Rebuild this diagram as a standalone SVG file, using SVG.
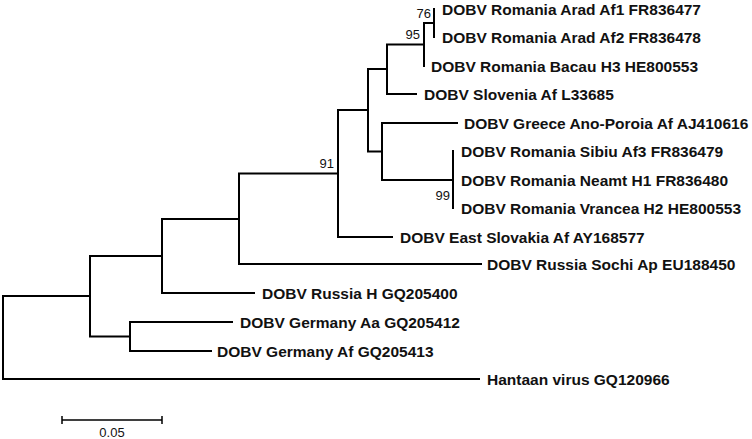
<svg xmlns="http://www.w3.org/2000/svg" width="752" height="439" viewBox="0 0 752 439">
<style>
.br{fill:none;stroke:#000;stroke-width:2;stroke-linejoin:miter}
.leaf{font-family:"Liberation Sans",Arial,sans-serif;font-weight:bold;font-size:15.5px;fill:#111}
.bs{font-family:"Liberation Sans",Arial,sans-serif;font-size:13px;fill:#111;text-anchor:end}
.sc{fill:none;stroke:#000;stroke-width:1.5}
</style>
<rect width="752" height="439" fill="#fff"/>
<g id="connectors">
<path class="br" d="M434 8 V38"/>
<path class="br" d="M434 23 H424 V67"/>
<path class="br" d="M424 44.5 H387 V94 H417"/>
<path class="br" d="M387 69 H368 V151.5 H382"/>
<path class="br" d="M458 123 H382 V180 H453"/>
<path class="br" d="M453 150 V209"/>
<path class="br" d="M368 110 H338 V237 H393"/>
<path class="br" d="M338 173.5 H239 V264 H482"/>
<path class="br" d="M239 219 H162 V293 H255"/>
<path class="br" d="M233 322 H130 V351 H212"/>
<path class="br" d="M162 256 H90 V336.5 H130"/>
<path class="br" d="M90 296 H3 V379 H480"/>
</g>
<g id="n_arad_af1"><text class="leaf" x="442" y="14.5">DOBV Romania Arad Af1 FR836477</text></g>
<g id="n_arad_af2"><text class="leaf" x="442" y="42.5">DOBV Romania Arad Af2 FR836478</text></g>
<g id="n_bacau"><text class="leaf" x="431" y="71.5">DOBV Romania Bacau H3 HE800553</text></g>
<g id="n_slovenia"><text class="leaf" x="424" y="99.5">DOBV Slovenia Af L33685</text></g>
<g id="n_greece"><text class="leaf" x="464" y="128.5">DOBV Greece Ano-Poroia Af AJ410616</text></g>
<g id="n_sibiu"><text class="leaf" x="461" y="156.5">DOBV Romania Sibiu Af3 FR836479</text></g>
<g id="n_neamt"><text class="leaf" x="461" y="185.5">DOBV Romania Neamt H1 FR836480</text></g>
<g id="n_vrancea"><text class="leaf" x="461" y="213.5">DOBV Romania Vrancea H2 HE800553</text></g>
<g id="n_eslovakia"><text class="leaf" x="400" y="242.5">DOBV East Slovakia Af AY168577</text></g>
<g id="n_sochi"><text class="leaf" x="487" y="269.5">DOBV Russia Sochi Ap EU188450</text></g>
<g id="n_russia_h"><text class="leaf" x="262" y="298.5">DOBV Russia H GQ205400</text></g>
<g id="n_germany_aa"><text class="leaf" x="240" y="327.5">DOBV Germany Aa GQ205412</text></g>
<g id="n_germany_af"><text class="leaf" x="217" y="356.5">DOBV Germany Af GQ205413</text></g>
<g id="n_hantaan"><text class="leaf" x="487" y="384.5">Hantaan virus GQ120966</text></g>
<g id="bs_76"><text class="bs" x="431" y="18">76</text></g>
<g id="bs_95"><text class="bs" x="420" y="39">95</text></g>
<g id="bs_91"><text class="bs" x="334" y="168">91</text></g>
<g id="bs_99"><text class="bs" x="450" y="200">99</text></g>
<g id="scale">
<path class="sc" d="M62 420 H162 M62 416 V424 M162 416 V424"/>
<text x="112" y="437" font-family="Liberation Sans, Arial, sans-serif" font-size="13" fill="#111" text-anchor="middle">0.05</text>
</g>
</svg>
